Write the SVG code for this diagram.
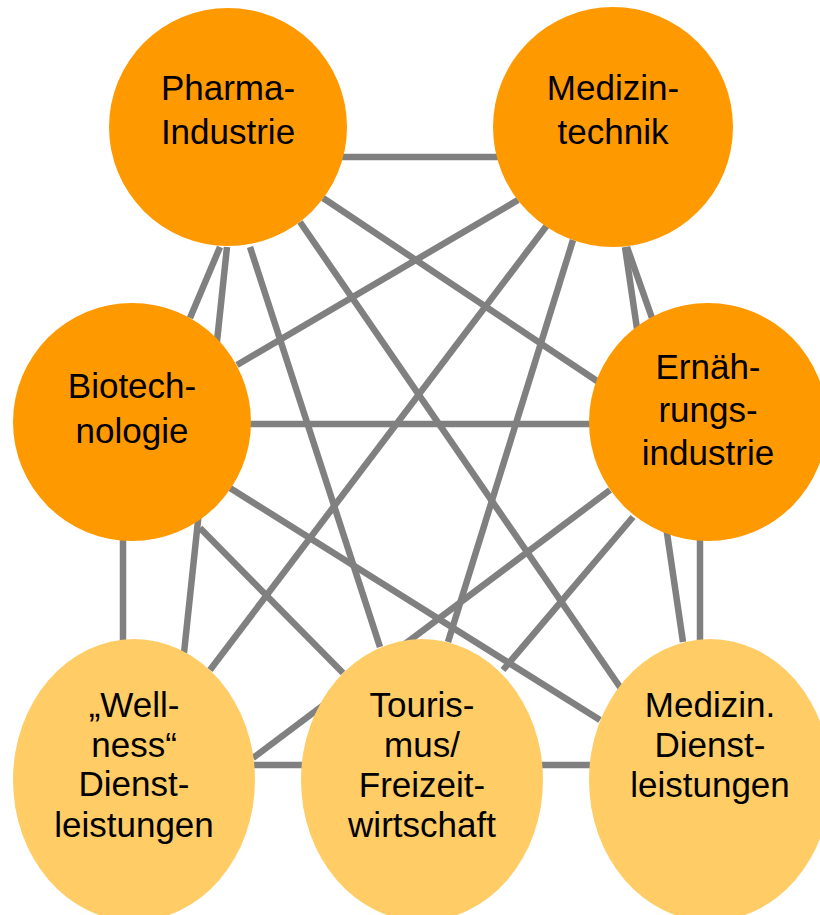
<svg xmlns="http://www.w3.org/2000/svg" width="820" height="915" viewBox="0 0 820 915">
<style>
.c line{stroke:#808080;stroke-width:6.5;fill:none}
.d{fill:#FF9900}
.l{fill:#FFCC66}
text{font-family:"Liberation Sans",Arial,sans-serif;font-size:35px;fill:#000;text-anchor:middle}
</style>
<rect width="820" height="915" fill="#fff"/>
<g id="connectors" class="c">
<line x1="340" y1="157" x2="500" y2="157"/>
<line x1="323" y1="198" x2="600" y2="383"/>
<line x1="300" y1="222" x2="622" y2="690"/>
<line x1="250" y1="247" x2="380" y2="647"/>
<line x1="227" y1="247" x2="184" y2="653"/>
<line x1="220" y1="247" x2="190" y2="318"/>
<line x1="518" y1="200" x2="237" y2="365"/>
<line x1="548" y1="224" x2="210" y2="670"/>
<line x1="573" y1="240" x2="448" y2="642"/>
<line x1="627" y1="247" x2="652" y2="318"/>
<line x1="625" y1="247" x2="683" y2="642"/>
<line x1="250" y1="424" x2="592" y2="424"/>
<line x1="230" y1="488" x2="600" y2="720"/>
<line x1="200" y1="528" x2="343" y2="673"/>
<line x1="123" y1="538" x2="123" y2="642"/>
<line x1="610" y1="490" x2="253" y2="758"/>
<line x1="633" y1="517" x2="503" y2="670"/>
<line x1="700" y1="538" x2="700" y2="642"/>
<line x1="253" y1="765" x2="303" y2="765"/>
<line x1="541" y1="765" x2="591" y2="765"/>
</g>
<g id="pharma">
<circle class="d" cx="228" cy="127" r="119"/>
<text x="228" y="100">Pharma-</text>
<text x="228" y="144">Industrie</text>
</g>
<g id="medizintechnik">
<circle class="d" cx="613" cy="127" r="120"/>
<text x="613" y="100">Medizin-</text>
<text x="613" y="144">technik</text>
</g>
<g id="biotechnologie">
<circle class="d" cx="132" cy="422" r="119"/>
<text x="132" y="398">Biotech-</text>
<text x="132" y="443">nologie</text>
</g>
<g id="ernaehrung">
<circle class="d" cx="708" cy="422" r="119"/>
<text x="708" y="379">Ernäh-</text>
<text x="708" y="422">rungs-</text>
<text x="708" y="465">industrie</text>
</g>
<g id="wellness">
<ellipse class="l" cx="134" cy="780" rx="121" ry="141"/>
<text x="134" y="717">„Well-</text>
<text x="134" y="757">ness“</text>
<text x="134" y="796">Dienst-</text>
<text x="134" y="837">leistungen</text>
</g>
<g id="tourismus">
<ellipse class="l" cx="422" cy="780" rx="121" ry="141"/>
<text x="422" y="717">Touris-</text>
<text x="422" y="757">mus/</text>
<text x="422" y="797">Freizeit-</text>
<text x="422" y="837">wirtschaft</text>
</g>
<g id="medizin-dienstleistungen">
<ellipse class="l" cx="710" cy="780" rx="121" ry="141"/>
<text x="710" y="717">Medizin.</text>
<text x="710" y="757">Dienst-</text>
<text x="710" y="797">leistungen</text>
</g>
</svg>
